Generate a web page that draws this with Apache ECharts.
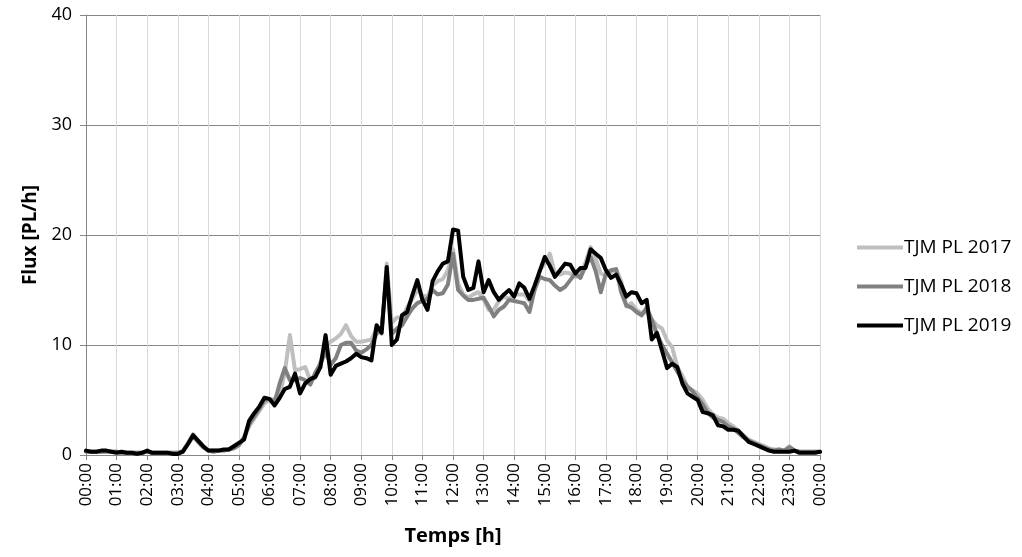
<!DOCTYPE html>
<html>
<head>
<meta charset="utf-8">
<script src="https://cdn.jsdelivr.net/npm/echarts@6/dist/echarts.min.js"></script>
<style>
html,body{margin:0;padding:0;background:#fff;}
#chart{width:1022px;height:557px;}
</style>
</head>
<body>
<div id="chart"></div>
<script>
// 10-minute time categories 00:00 .. 24:00 (shown as 00:00)
var hourLabels = ['00:00','01:00','02:00','03:00','04:00','05:00','06:00','07:00','08:00','09:00','10:00','11:00','12:00','13:00','14:00','15:00','16:00','17:00','18:00','19:00','20:00','21:00','22:00','23:00','00:00'];
var minuteSteps = ['00','10','20','30','40','50'];
var categories = [];
for (var h = 0; h < 24; h++) {
  for (var m = 0; m < minuteSteps.length; m++) {
    categories.push(hourLabels[h].slice(0, 3) + minuteSteps[m]);
  }
}
categories.push(hourLabels[24]);

var seriesNames = ['TJM PL 2017', 'TJM PL 2018', 'TJM PL 2019'];

var tjm2017 = [
  0.4,0.3,0.3,0.3,0.4,0.3,0.3,0.2,0.2,0.2,
  0.2,0.2,0.3,0.2,0.2,0.2,0.2,0.2,0.2,0.4,
  1.1,1.9,1.2,0.7,0.4,0.4,0.4,0.4,0.5,0.6,
  0.9,1.5,2.6,3.3,4.0,4.7,5.0,5.1,5.5,7.5,
  10.9,7.7,7.8,8.0,6.8,7.0,8.5,9.8,10.3,10.6,
  11.0,11.8,10.8,10.3,10.3,10.4,10.5,11.5,11.0,17.4,
  12.0,12.5,12.5,13.4,14.2,15.0,14.5,14.4,15.4,15.8,
  16.0,16.8,18.7,15.6,14.6,14.3,14.6,14.8,14.2,13.2,
  13.2,14.0,14.4,14.2,14.6,14.6,14.6,14.0,15.0,16.8,
  17.4,18.3,16.5,16.4,16.6,16.5,16.2,16.4,17.5,18.9,
  17.8,16.5,16.3,16.6,16.9,15.8,13.5,13.8,13.2,12.9,
  13.0,12.3,11.8,11.5,10.4,9.8,8.0,7.2,6.2,5.9,
  5.6,5.0,4.2,3.7,3.4,3.3,2.9,2.6,2.2,1.8,
  1.4,1.2,1.0,0.8,0.6,0.5,0.5,0.4,0.8,0.4,
  0.3,0.3,0.3,0.3,0.3
];
var tjm2018 = [
  0.3,0.3,0.3,0.3,0.3,0.3,0.3,0.2,0.2,0.2,
  0.2,0.2,0.3,0.2,0.2,0.2,0.2,0.2,0.2,0.3,
  1.0,1.7,1.2,0.7,0.4,0.3,0.4,0.4,0.5,0.6,
  0.9,1.6,2.8,3.5,4.2,5.0,5.1,4.8,6.5,7.9,
  6.8,6.8,7.0,6.8,6.4,7.5,8.3,9.4,8.2,8.8,
  10.0,10.2,10.2,9.5,9.3,9.6,10.0,11.0,11.5,16.5,
  11.0,11.5,11.8,12.6,13.3,13.8,14.0,14.2,15.0,14.6,
  14.7,15.5,18.3,15.0,14.5,14.1,14.1,14.2,14.3,13.5,
  12.6,13.2,13.5,14.1,14.0,13.9,13.8,13.0,15.0,16.2,
  16.0,15.9,15.4,15.0,15.3,15.9,16.5,16.1,17.2,18.0,
  16.7,14.8,16.5,16.8,16.9,14.8,13.6,13.4,13.0,12.7,
  13.4,12.3,11.0,10.0,9.2,8.4,7.6,6.8,6.2,5.8,
  5.2,4.6,3.8,3.4,3.2,3.0,2.6,2.4,2.0,1.6,
  1.3,1.1,0.9,0.7,0.5,0.4,0.5,0.4,0.7,0.4,
  0.3,0.3,0.3,0.3,0.3
];
var tjm2019 = [
  0.4,0.3,0.3,0.4,0.4,0.3,0.2,0.3,0.2,0.2,
  0.1,0.2,0.4,0.2,0.2,0.2,0.2,0.1,0.1,0.3,
  1.0,1.8,1.3,0.8,0.4,0.4,0.4,0.5,0.5,0.8,
  1.1,1.4,3.1,3.8,4.4,5.2,5.1,4.5,5.2,6.0,
  6.2,7.4,5.6,6.5,6.9,7.1,8.0,10.9,7.3,8.1,
  8.3,8.5,8.8,9.2,8.9,8.8,8.6,11.8,11.1,17.1,
  10.0,10.5,12.7,13.0,14.5,15.9,14.1,13.2,15.8,16.7,
  17.4,17.6,20.5,20.4,16.2,15.0,15.2,17.6,14.8,15.9,
  14.8,14.1,14.6,15.0,14.4,15.6,15.2,14.2,15.4,16.7,
  18.0,17.2,16.2,16.8,17.4,17.3,16.5,17.0,17.0,18.7,
  18.3,17.9,16.8,16.1,16.4,15.5,14.4,14.8,14.7,13.8,
  14.1,10.5,11.1,9.5,7.9,8.3,8.0,6.5,5.6,5.3,
  5.0,3.9,3.8,3.6,2.7,2.6,2.3,2.3,2.2,1.7,
  1.2,1.0,0.8,0.6,0.4,0.3,0.3,0.3,0.3,0.4,
  0.2,0.2,0.2,0.2,0.3
];
var yTicks = [0, 10, 20, 30, 40];

var FONT = 'Open Sans';
var chart = echarts.init(document.getElementById('chart'), null, {renderer: 'canvas'});
var colors = ['#bfbfbf', '#808080', '#000000'];
var datas = [tjm2017, tjm2018, tjm2019];

chart.setOption({
  animation: false,
  backgroundColor: '#ffffff',
  textStyle: {fontFamily: FONT},
  grid: {left: 86, right: 202, top: 15, bottom: 102, containLabel: false},
  legend: {
    orient: 'vertical',
    left: 852,
    top: 233,
    icon: 'rect',
    itemWidth: 46,
    itemHeight: 4,
    itemGap: 20,
    data: seriesNames,
    textStyle: {fontFamily: FONT, fontSize: 19, lineHeight: 14, color: '#000', padding: [0, 0, 0, -4]}
  },
  xAxis: {
    type: 'category',
    data: categories,
    boundaryGap: false,
    name: 'Temps [h]',
    nameLocation: 'middle',
    nameGap: 71,
    nameTextStyle: {fontFamily: FONT, fontSize: 20, fontWeight: 'bold', color: '#000'},
    axisLine: {lineStyle: {color: '#868686', width: 1}},
    axisTick: {show: true, interval: 5, length: 5, lineStyle: {color: '#868686'}},
    axisLabel: {interval: 5, rotate: 90, fontSize: 17, color: '#000', fontFamily: FONT, margin: 8},
    splitLine: {show: true, interval: 5, lineStyle: {color: '#d9d9d9', width: 1}}
  },
  yAxis: {
    type: 'value',
    min: yTicks[0],
    max: yTicks[yTicks.length - 1],
    interval: 10,
    name: 'Flux [PL/h]',
    nameLocation: 'middle',
    nameGap: 46,
    nameTextStyle: {fontFamily: FONT, fontSize: 19, fontWeight: 'bold', color: '#000'},
    axisLine: {show: true, lineStyle: {color: '#868686', width: 1}},
    axisTick: {show: true, length: 6, lineStyle: {color: '#868686'}},
    axisLabel: {fontSize: 18, color: '#000', fontFamily: FONT, margin: 14},
    splitLine: {show: true, lineStyle: {color: '#868686', width: 1}}
  },
  series: seriesNames.map(function (n, k) {
    return {
      name: n,
      type: 'line',
      data: datas[k],
      symbol: 'none',
      smooth: false,
      color: colors[k],
      lineStyle: {color: colors[k], width: 4, join: 'round', cap: 'round'},
      z: 2 + k
    };
  })
});
</script>
</body>
</html>
